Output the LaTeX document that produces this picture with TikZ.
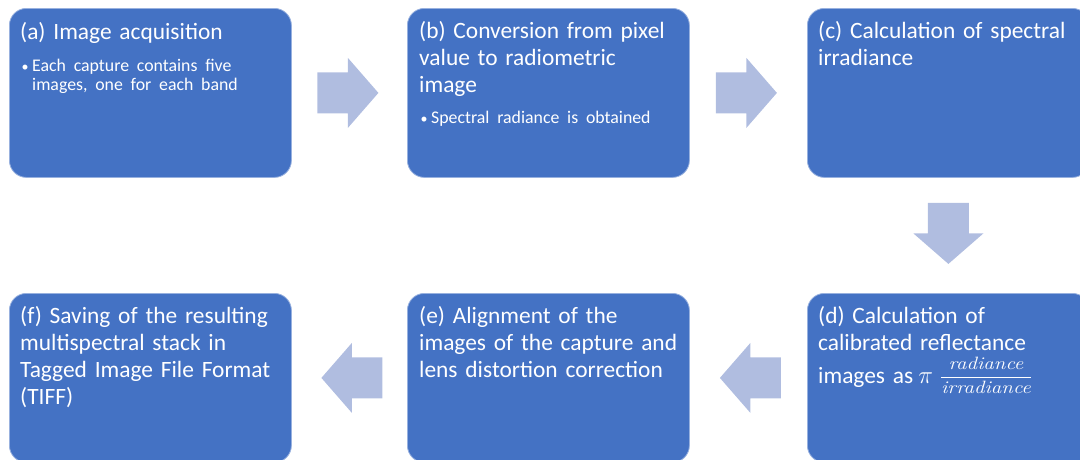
\documentclass[tikz,border=0pt]{standalone}
\usepackage{fontspec}
\setmainfont{Carlito}
\newfontfamily\fracserif{Latin Modern Roman}
\usetikzlibrary{calc}
\definecolor{boxblue}{RGB}{68,114,196}
\definecolor{arrowfill}{RGB}{176,189,224}
\newcommand\bulitem[2]{\par\vspace{#1}{\fontsize{17.8}{19}\selectfont\noindent\hspace*{1.5pt}\makebox[10.5pt][l]{\fontsize{14}{14}\selectfont •}\parbox[t]{250pt}{#2}\par}}
\newcommand\tstrut{\rule{0pt}{22pt}}
\newcommand\fracfont{\fracserif\itshape\fontsize{21}{21}\selectfont}
\newcommand\fracword[1]{\scalebox{1}[0.85]{\fracfont #1}}
\begin{document}
\begin{tikzpicture}[x=1pt,y=-1pt,
  box/.style={draw=white!45!boxblue, line width=0.8pt, fill=boxblue, rounded corners=17pt,
    minimum width=282pt, minimum height=169pt, inner sep=0pt, anchor=north west},
  txt/.style={anchor=north west, inner sep=0pt, text=white, text width=300pt, align=left,
    font=\fontsize{23.4}{27}\selectfont},
  blockarrow/.pic={\fill[arrowfill] (-30.5,-20.5) -- (0,-20.5) -- (0,-35) -- (30.5,0) -- (0,35) -- (0,20.5) -- (-30.5,20.5) -- cycle;}]
\useasboundingbox (0,0) rectangle (1080,459);
\clip (0,0) rectangle (1080,459);
% boxes
\node[box] (a) at (9,8) {};
\node[box] (b) at (407,8) {};
\node[box] (c) at (807,8) {};
\node[box] (f) at (9,293) {};
\node[box] (e) at (407,293) {};
\node[box] (d) at (807,293) {};
% texts
\node[txt] (ta) at ($(a.north west)+(11,9)$) {\tstrut(a) Image acquisition
  \bulitem{13.5pt}{Each capture contains five\\images, one for each band}};
\node[txt] (tb) at ($(b.north west)+(12,8)$) {\tstrut(b) Conversion from pixel\\value to radiometric\\image
  \bulitem{12.5pt}{Spectral radiance is obtained}};
\node[txt] (tc) at ($(c.north west)+(11,8)$) {\tstrut(c) Calculation of spectral\\irradiance};
\node[txt] (td) at ($(d.north west)+(11,8)$) {\tstrut(d) Calculation of\\calibrated reflectance\\[6pt]images as\hspace{5pt}\smash{$\pi\;\frac{\fracword{radiance}\rule[-6.8pt]{0pt}{6.8pt}}{\rule{0pt}{15.6pt}\fracword{irradiance}}$}};
\node[txt] (te) at ($(e.north west)+(12,8)$) {\tstrut(e) Alignment of the\\images of the capture and\\lens distortion correction};
\node[txt] (tf) at ($(f.north west)+(11,8)$) {\tstrut(f) Saving of the resulting\\multispectral stack in\\Tagged Image File Format\\(TIFF)};
% block arrows
\pic at ($(a.east)!0.5!(b.west)+(-1.5,0)$) {blockarrow};
\pic at ($(b.east)!0.5!(c.west)+(-2,0)$) {blockarrow};
\pic[rotate=-90] at ($(c.south)!0.5!(d.north)+(0,-2)$) {blockarrow};
\pic[rotate=180] at ($(d.west)!0.5!(e.east)+(2,0)$) {blockarrow};
\pic[rotate=180] at ($(e.west)!0.5!(f.east)+(2.5,0)$) {blockarrow};
\end{tikzpicture}
\end{document}
